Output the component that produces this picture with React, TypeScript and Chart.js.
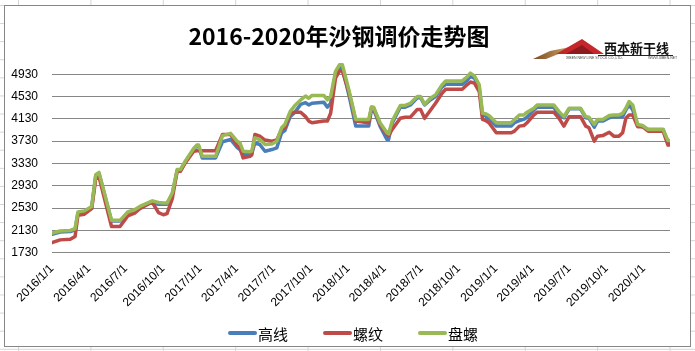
import React, { useEffect, useRef } from "react";
import { Chart, registerables } from "chart.js";

Chart.register(...registerables);

const chartTitle = "2016-2020年沙钢调价走势图";
const seriesNames = ["高线", "螺纹", "盘螺"];
const seriesColors = ["#4A7EBB", "#BE4B48", "#98B954"];
const tickLabels = [
  "2016/1/1", "2016/4/1", "2016/7/1", "2016/10/1",
  "2017/1/1", "2017/4/1", "2017/7/1", "2017/10/1",
  "2018/1/1", "2018/4/1", "2018/7/1", "2018/10/1",
  "2019/1/1", "2019/4/1", "2019/7/1", "2019/10/1",
  "2020/1/1",
];
const yTickValues = [1730, 2130, 2530, 2930, 3330, 3730, 4130, 4530, 4930];
const yMin = 1730;
const yMax = 5130;
const axisStart = "2016/1/1";
const axisEnd = "2020/3/6";

const priceDates = [
  "2016/1/1", "2016/1/21", "2016/2/15", "2016/2/27", "2016/3/5", "2016/3/21", "2016/4/8", "2016/4/18",
  "2016/4/26", "2016/5/27", "2016/6/17", "2016/7/6", "2016/7/23", "2016/8/5", "2016/8/30", "2016/9/5",
  "2016/9/20", "2016/10/2", "2016/10/11", "2016/10/24", "2016/11/5", "2016/11/13", "2016/11/25", "2016/12/16",
  "2016/12/24", "2016/12/28", "2017/1/6", "2017/2/8", "2017/2/25", "2017/3/17", "2017/4/2", "2017/4/9",
  "2017/4/17", "2017/5/4", "2017/5/8", "2017/5/16", "2017/5/28", "2017/6/10", "2017/6/27", "2017/7/9",
  "2017/7/21", "2017/7/29", "2017/8/11", "2017/8/24", "2017/9/6", "2017/9/18", "2017/9/26", "2017/10/4",
  "2017/11/2", "2017/11/11", "2017/11/19", "2017/12/1", "2017/12/11", "2017/12/18", "2018/1/4", "2018/1/20",
  "2018/2/21", "2018/2/28", "2018/3/5", "2018/3/21", "2018/4/7", "2018/4/11", "2018/4/20", "2018/5/10",
  "2018/5/22", "2018/6/4", "2018/6/21", "2018/6/29", "2018/7/9", "2018/7/23", "2018/8/5", "2018/8/21",
  "2018/8/30", "2018/10/10", "2018/10/23", "2018/10/30", "2018/11/9", "2018/11/21", "2018/11/29", "2018/12/7",
  "2018/12/15", "2019/1/2", "2019/2/8", "2019/2/16", "2019/2/28", "2019/3/11", "2019/3/19", "2019/4/5",
  "2019/4/13", "2019/5/24", "2019/6/6", "2019/6/18", "2019/7/1", "2019/7/29", "2019/8/11", "2019/8/19",
  "2019/9/1", "2019/9/9", "2019/9/22", "2019/10/8", "2019/10/19", "2019/11/1", "2019/11/10", "2019/11/18",
  "2019/11/26", "2019/12/5", "2019/12/17", "2019/12/29", "2020/1/12", "2020/2/18", "2020/3/1", "2020/3/6",
];

// 高线
const gaoxian = [
  2060, 2100, 2110, 2140, 2440, 2460, 2540, 3110,
  3150, 2300, 2300, 2430, 2480, 2540, 2620, 2620,
  2600, 2600, 2600, 2780, 3200, 3200, 3350, 3590,
  3650, 3640, 3430, 3430, 3720, 3760, 3620, 3580,
  3490, 3490, 3500, 3700, 3670, 3550, 3580, 3610,
  3880, 3920, 4170, 4260, 4390, 4420, 4380, 4410,
  4430, 4340, 4410, 4950, 5040, 5040, 4530, 4000,
  4000, 4300, 4300, 4000, 3760, 3760, 4050, 4340,
  4340, 4380, 4510, 4510, 4380, 4470, 4530, 4700,
  4750, 4750, 4830, 4890, 4860, 4680, 4200, 4180,
  4130, 4000, 4000, 4060, 4100, 4120, 4160, 4290,
  4340, 4340, 4200, 4150, 4310, 4310, 4150, 4140,
  3980, 4090, 4090, 4150, 4170, 4170, 4170, 4290,
  4380, 4290, 4010, 3990, 3940, 3940, 3700, 3700,
];

// 螺纹
const luowen = [
  1910, 1960, 1970, 2020, 2400, 2420, 2520, 3050,
  3090, 2200, 2200, 2390, 2440, 2520, 2620, 2630,
  2450, 2410, 2430, 2700, 3190, 3190, 3340, 3550,
  3560, 3560, 3560, 3560, 3850, 3850, 3650, 3610,
  3430, 3460, 3480, 3850, 3820, 3750, 3730, 3750,
  3940, 3970, 4230, 4250, 4250, 4170, 4090, 4060,
  4090, 4090, 4230, 4860, 4990, 4990, 4590, 4090,
  4060, 4340, 4330, 4030, 3850, 3830, 3940, 4140,
  4160, 4160, 4300, 4300, 4140, 4280, 4410, 4590,
  4660, 4660, 4750, 4790, 4770, 4620, 4120, 4100,
  4060, 3880, 3880, 3910, 4000, 4010, 4060, 4200,
  4250, 4250, 4140, 4000, 4170, 4170, 4000, 3970,
  3730, 3820, 3830, 3890, 3820, 3820, 3880, 4140,
  4200, 4200, 3990, 3990, 3910, 3910, 3660, 3660,
];

// 盘螺
const panluo = [
  2080, 2120, 2130, 2160, 2460, 2480, 2560, 3130,
  3170, 2310, 2310, 2460, 2500, 2560, 2640, 2660,
  2630, 2620, 2620, 2800, 3220, 3220, 3370, 3600,
  3660, 3660, 3460, 3460, 3830, 3870, 3730, 3700,
  3550, 3540, 3550, 3790, 3760, 3670, 3680, 3730,
  3970, 4030, 4260, 4380, 4470, 4540, 4500, 4550,
  4550, 4470, 4530, 4980, 5100, 5100, 4620, 4120,
  4120, 4340, 4340, 4060, 3880, 3860, 4090, 4370,
  4370, 4410, 4530, 4530, 4390, 4500, 4560, 4740,
  4810, 4810, 4890, 4950, 4900, 4740, 4230, 4220,
  4190, 4060, 4060, 4120, 4200, 4200, 4250, 4320,
  4380, 4380, 4260, 4170, 4320, 4320, 4170, 4160,
  4030, 4120, 4120, 4190, 4200, 4200, 4230, 4320,
  4440, 4380, 4030, 4010, 3940, 3940, 3740, 3740,
];

const seriesValues = [gaoxian, luowen, panluo];

function dayIndex(s: string): number {
  const [y, m, d] = s.split("/").map(Number);
  const [y0, m0, d0] = axisStart.split("/").map(Number);
  return (Date.UTC(y, m - 1, d) - Date.UTC(y0, m0 - 1, d0)) / 86400000;
}

const decorPlugin = {
  id: "decor",
  afterDraw(chart: any) {
    const ctx: CanvasRenderingContext2D = chart.ctx;
    const W = chart.width;
    ctx.save();

    // Title
    ctx.font = 'bold 23px "Noto Sans CJK SC"';
    ctx.fillStyle = "#000";
    ctx.textAlign = "center";
    ctx.textBaseline = "middle";
    ctx.fillText(chartTitle, W / 2 - 8.5, 30);

    // Logo (approximation) - canvas coords
    const ox = -5, oy = -6;
    const P = (x: number, y: number): [number, number] => [x + ox, y + oy];
    const poly = (pts: [number, number][], fill: any) => {
      ctx.beginPath();
      pts.forEach((p, i) => (i ? ctx.lineTo(p[0], p[1]) : ctx.moveTo(p[0], p[1])));
      ctx.closePath();
      ctx.fillStyle = fill;
      ctx.fill();
    };
    const g = ctx.createLinearGradient(P(533, 58)[0], 0, P(590, 45)[0], 0);
    g.addColorStop(0, "#7a4a22");
    g.addColorStop(0.6, "#c9a060");
    g.addColorStop(1, "#e8d3a8");
    poly([P(533, 59), P(550, 51), P(575, 46), P(592, 46), P(566, 51), P(546, 59)], g);
    poly([P(556, 54), P(582, 39), P(604, 54), P(592, 54), P(582, 47), P(568, 54)], "#c4262c");
    poly([P(566, 54), P(582, 45), P(594, 54)], "#8c1a1e");
    ctx.strokeStyle = "#222";
    ctx.lineWidth = 1;
    ctx.beginPath();
    ctx.moveTo(...P(598, 55.5));
    ctx.lineTo(...P(673, 55.5));
    ctx.stroke();
    ctx.font = 'bold 13px "Noto Sans CJK SC"';
    ctx.fillStyle = "#111";
    ctx.textAlign = "left";
    ctx.textBaseline = "alphabetic";
    ctx.fillText("西本新干线", ...P(604, 53));
    ctx.font = '3.5px "Liberation Sans"';
    ctx.fillStyle = "#444";
    ctx.fillText("XIBEN NEW LINE STOCK CO.,LTD.", ...P(566, 59));
    ctx.fillText("WWW.XIBEN.NET", ...P(648, 59));

    // Legend
    const ly = 327;
    ctx.font = '15px "Noto Sans CJK SC"';
    const lineLen = 27, textGap = 2, itemGap = 36;
    const widths = seriesNames.map((n) => ctx.measureText(n).width);
    const total = widths.reduce((a, w) => a + lineLen + textGap + w, 0) + itemGap * (seriesNames.length - 1);
    let x = W / 2 + 6 - total / 2;
    ctx.textBaseline = "middle";
    seriesNames.forEach((n, i) => {
      ctx.strokeStyle = seriesColors[i];
      ctx.lineWidth = 4;
      ctx.lineCap = "round";
      ctx.beginPath();
      ctx.moveTo(x + 1, ly);
      ctx.lineTo(x + lineLen - 1, ly);
      ctx.stroke();
      ctx.fillStyle = "#000";
      ctx.fillText(n, x + lineLen + textGap, ly + 1);
      x += lineLen + textGap + widths[i] + itemGap;
    });
    ctx.restore();
  },
};

export default function App() {
  const canvasRef = useRef<HTMLCanvasElement | null>(null);

  useEffect(() => {
    if (!canvasRef.current) return;
    const xs = priceDates.map(dayIndex);
    const tickDays = tickLabels.map(dayIndex);
    const chart = new Chart(canvasRef.current, {
      type: "line",
      data: {
        datasets: seriesNames.map((name, i) => ({
          label: name,
          data: seriesValues[i].map((v, k) => ({ x: xs[k], y: v })),
          borderColor: seriesColors[i],
          backgroundColor: seriesColors[i],
          borderWidth: 3.5,
          pointRadius: 0,
          tension: 0,
          fill: false,
          borderJoinStyle: "round" as const,
          borderCapStyle: "round" as const,
          order: 3 - i,
        })),
      },
      options: {
        animation: false,
        responsive: true,
        maintainAspectRatio: false,
        layout: { padding: { top: 57.1, left: 0, right: 20, bottom: 33.3 } },
        plugins: {
          legend: { display: false },
          title: { display: false },
          tooltip: { enabled: false },
        },
        scales: {
          x: {
            type: "linear",
            min: 0,
            max: dayIndex(axisEnd),
            afterBuildTicks: (scale: any) => {
              scale.ticks = tickDays.map((v) => ({ value: v }));
            },
            afterFit: (scale: any) => {
              scale.height = 60;
            },
            grid: { display: false, drawTicks: false },
            border: { display: false },
            ticks: {
              autoSkip: false,
              minRotation: 45,
              maxRotation: 45,
              padding: 9,
              color: "#000",
              font: { family: '"Liberation Sans"', size: 12 },
              callback: (value: any) => {
                const idx = tickDays.indexOf(Number(value));
                return idx >= 0 ? tickLabels[idx] : "";
              },
            },
          },
          y: {
            type: "linear",
            min: yMin,
            max: yMax,
            afterBuildTicks: (scale: any) => {
              scale.ticks = yTickValues.map((v) => ({ value: v }));
            },
            afterFit: (scale: any) => {
              scale.width = 47;
            },
            grid: { color: "#868686", lineWidth: 1, drawTicks: false },
            border: { display: false },
            ticks: {
              padding: 14,
              color: "#000",
              font: { family: '"Liberation Sans"', size: 12 },
              callback: (value: any) => String(value),
            },
          },
        },
      },
      plugins: [decorPlugin],
    });
    return () => chart.destroy();
  }, []);

  return (
    <div
      style={{
        position: "fixed",
        left: 0,
        top: 0,
        width: 695,
        height: 351,
        background: "#fff",
        backgroundImage:
          "linear-gradient(to right, #d4d4d4 1px, transparent 1px), linear-gradient(to bottom, #d4d4d4 1px, transparent 1px)",
        backgroundSize: "72.4px 100%, 100% 18.1px",
        backgroundPosition: "18px 0, 0 5px",
        overflow: "hidden",
      }}
    >
      <div
        style={{
          position: "absolute",
          left: 4,
          top: 5,
          width: 687,
          height: 342,
          boxSizing: "border-box",
          border: "1px solid #868686",
          background: "#fff",
        }}
      >
        <div style={{ position: "relative", width: 685, height: 340 }}>
          <canvas ref={canvasRef} />
        </div>
      </div>
    </div>
  );
}
